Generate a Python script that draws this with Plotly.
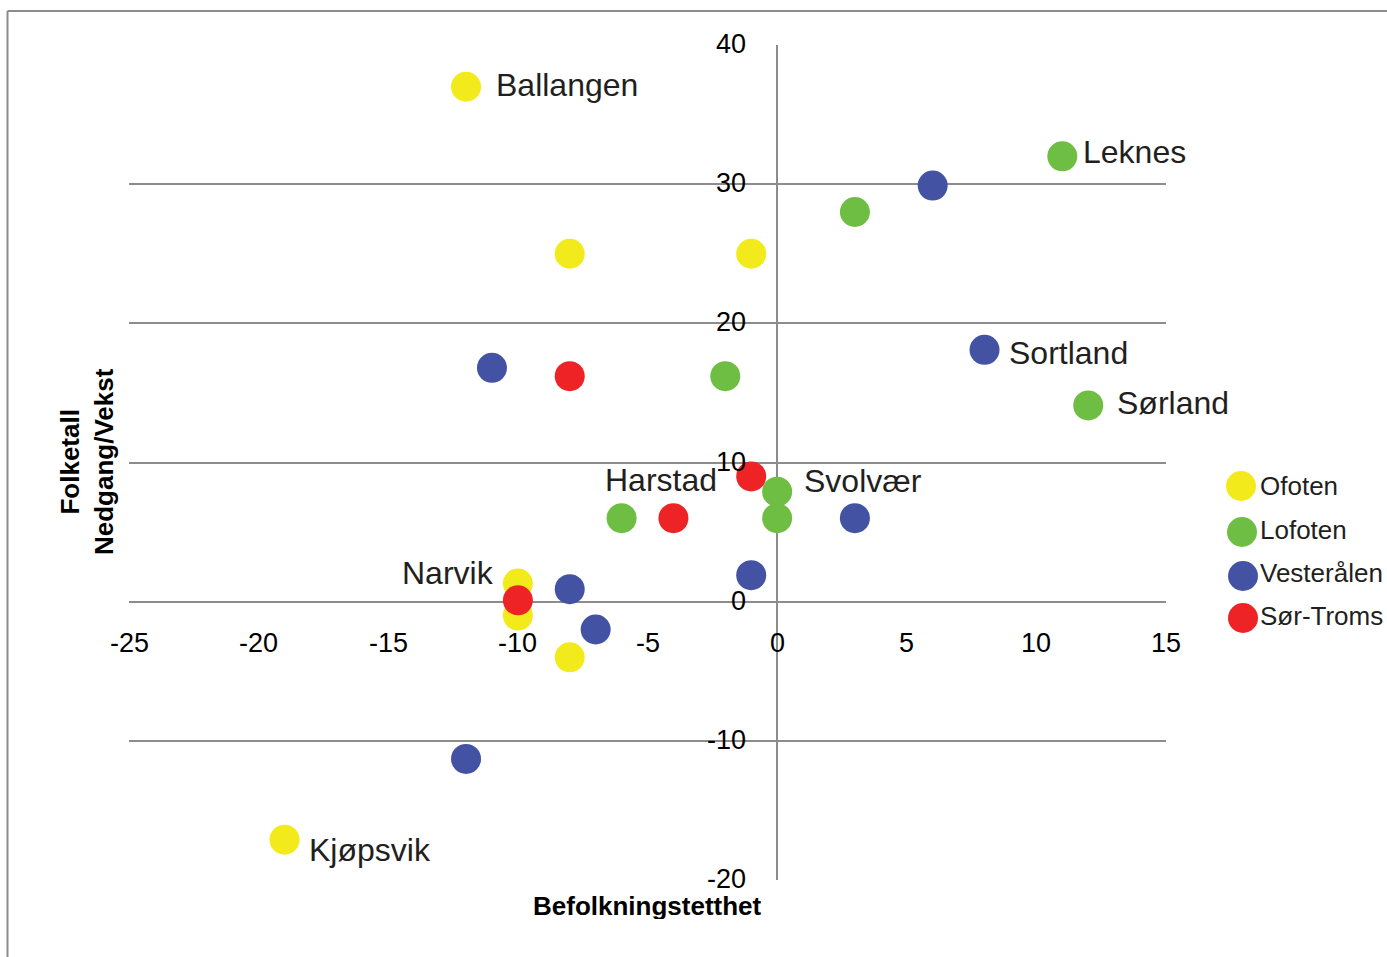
import plotly.graph_objects as go

# ---------------- data ----------------
series_names = ["Ofoten", "Lofoten", "Vesterålen", "Sør-Troms"]
series_colors = ["#F3EA1B", "#6FBE44", "#4452A3", "#EE2326"]

ofoten_x = [-12, -8, -1, -10, -10, -8, -19]
ofoten_y = [37, 25, 25, 1.3, -1, -4, -17.1]

lofoten_x = [11, 3, -2, 12, 0, 0, -6]
lofoten_y = [32, 28, 16.2, 14.1, 7.9, 6, 6]

vesteralen_x = [6, 8, -11, 3, -1, -8, -7, -12]
vesteralen_y = [29.9, 18.1, 16.8, 6, 1.9, 0.9, -2, -11.3]

sortroms_x = [-8, -1, -4, -10]
sortroms_y = [16.2, 9, 6, 0.1]

label_names = ["Ballangen", "Leknes", "Sortland", "Sørland", "Harstad", "Svolvær", "Narvik", "Kjøpsvik"]
label_x = [-12, 11, 8, 12, -1, 0, -10, -19]
label_y = [37, 32, 18.1, 14.1, 9, 7.9, 1.3, -17.1]

x_ticks = [-25, -20, -15, -10, -5, 0, 5, 10, 15]
y_ticks = [40, 30, 20, 10, 0, -10, -20]

x_title = "Befolkningstetthet"
y_title = "Folketall<br>Nedgang/Vekst"

# ---------------- layout constants ----------------
W, H = 1387, 957
L, R, T, B = 129, 221, 45, 77
PW, PH = W - L - R, H - T - B


def px(xp):
    return (xp - L) / PW


def py(yp):
    return (H - B - yp) / PH


GRID = "#8c8c8c"
TEXT = "#231F20"
FONT = "Liberation Sans, Arial, sans-serif"

fig = go.Figure()
all_x = [ofoten_x, lofoten_x, vesteralen_x, sortroms_x]
all_y = [ofoten_y, lofoten_y, vesteralen_y, sortroms_y]
for name, col, xs, ys in zip(series_names, series_colors, all_x, all_y):
    fig.add_trace(go.Scatter(
        x=xs, y=ys, mode="markers", name=name,
        marker=dict(size=30, color=col, line=dict(width=0)),
        showlegend=False, cliponaxis=False,
    ))

# point labels (style offsets)
label_style = {
    "Ballangen": ("left", 28, 2),
    "Leknes": ("left", 19, 4),
    "Sortland": ("left", 22, -3),
    "Sørland": ("left", 27, 2),
    "Harstad": ("right", -32, -4),
    "Svolvær": ("left", 25, 11),
    "Narvik": ("right", -22, 11),
    "Kjøpsvik": ("left", 22, -10),
}
annotations = []
for name, lx, ly in zip(label_names, label_x, label_y):
    anc, xs, ys = label_style[name]
    annotations.append(dict(
        x=lx, y=ly, xref="x", yref="y", text=name, showarrow=False,
        xanchor=anc, yanchor="middle", xshift=xs, yshift=ys,
        font=dict(family=FONT, size=32, color=TEXT),
    ))

# tick labels placed like the original (axes crossing at 0)
for t in x_ticks:
    annotations.append(dict(
        x=t, y=0, xref="x", yref="y", text=str(t), showarrow=False,
        xanchor="center", yanchor="middle", yshift=-41,
        font=dict(family=FONT, size=27, color="#000000"),
    ))
for t in y_ticks:
    annotations.append(dict(
        x=0, y=t, xref="x", yref="y", text=str(t), showarrow=False,
        xanchor="right", yanchor="middle", xshift=-29, yshift=1, height=24,
        font=dict(family=FONT, size=27, color="#000000"),
    ))

# axis titles
annotations.append(dict(
    x=px(647), y=py(906), xref="paper", yref="paper", text="<b>%s</b>" % x_title,
    showarrow=False, xanchor="center", yanchor="middle", height=26,
    font=dict(family=FONT, size=26, color="#000000"),
))
annotations.append(dict(
    x=px(87), y=py(462), xref="paper", yref="paper", text="<b>%s</b>" % y_title,
    showarrow=False, xanchor="center", yanchor="middle", textangle=-90,
    font=dict(family=FONT, size=26, color="#000000"),
))

# manual legend (large markers)
shapes = []
leg_marker_px = [(1241, 486), (1242, 532), (1243, 576), (1243, 618)]
leg_text_py = [486, 530, 573, 616]
r = 15
for name, col, (cx, cy), ty in zip(series_names, series_colors, leg_marker_px, leg_text_py):
    shapes.append(dict(
        type="circle", xref="paper", yref="paper",
        x0=px(cx - r), x1=px(cx + r), y0=py(cy + r), y1=py(cy - r),
        fillcolor=col, line=dict(width=0), layer="above",
    ))
    annotations.append(dict(
        x=px(1258), y=py(ty), xref="paper", yref="paper", text=name,
        showarrow=False, xanchor="left", yanchor="middle",
        font=dict(family=FONT, size=26, color=TEXT),
    ))

# outer frame (left and top edges)
shapes.append(dict(type="line", xref="paper", yref="paper",
                   x0=px(7.5), x1=px(7.5), y0=py(957), y1=py(11),
                   line=dict(color=GRID, width=2)))
shapes.append(dict(type="line", xref="paper", yref="paper",
                   x0=px(7.5), x1=px(1387), y0=py(11), y1=py(11),
                   line=dict(color=GRID, width=2)))

fig.update_layout(
    width=W, height=H,
    margin=dict(l=L, r=R, t=T, b=B, pad=0),
    paper_bgcolor="white", plot_bgcolor="white",
    showlegend=False,
    annotations=annotations, shapes=shapes,
    xaxis=dict(range=[-25, 15], showgrid=False, showticklabels=False, ticks="",
               zeroline=True, zerolinecolor=GRID, zerolinewidth=2, showline=False,
               fixedrange=True),
    yaxis=dict(range=[-20, 40], tick0=0, dtick=10, showgrid=True, gridcolor=GRID,
               gridwidth=2, showticklabels=False, ticks="",
               zeroline=True, zerolinecolor=GRID, zerolinewidth=2, showline=False,
               fixedrange=True),
)

fig.write_html(
    "out.html",
    config={"displayModeBar": False},
    post_script="document.body.style.margin='0';document.body.style.overflow='hidden';",
)
